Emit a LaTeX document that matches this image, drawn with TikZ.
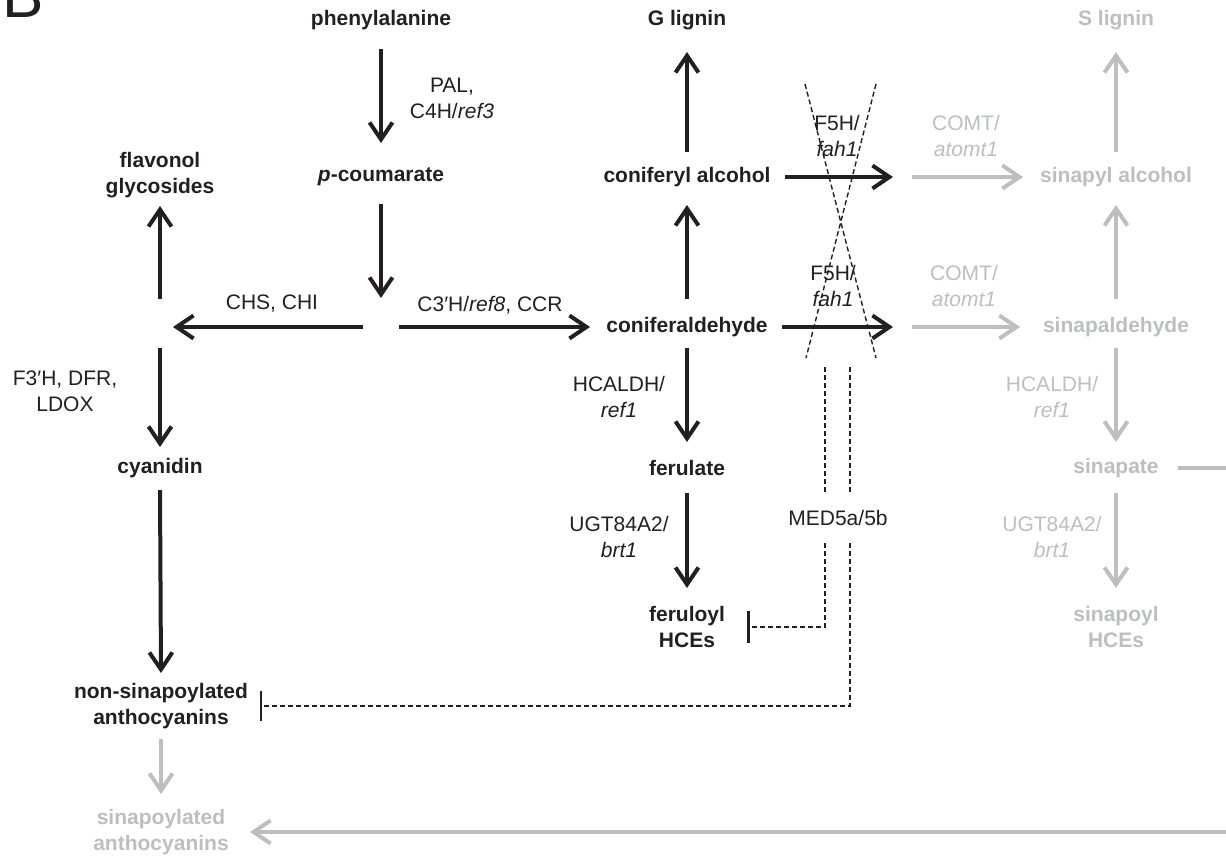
\documentclass[tikz,border=0pt]{standalone}
\usepackage{fontspec}
\setmainfont{Liberation Sans}
\usetikzlibrary{arrows.meta}
\definecolor{ink}{HTML}{231F20}
\definecolor{pale}{HTML}{BCBEC0}
\begin{document}
\begin{tikzpicture}[x=1pt,y=-1pt,
  every node/.style={inner sep=0pt, font=\fontsize{21}{26}\selectfont, align=center},
  met/.style={font=\fontsize{21}{26}\selectfont\bfseries, text=ink},
  gmet/.style={met, text=pale},
  enz/.style={text=ink},
  genz/.style={text=pale},
  arr/.style={draw=ink, line width=4pt, -{Straight Barb[length=17pt,width=23pt]}},
  garr/.style={arr, draw=pale},
  dsh/.style={draw=ink, line width=1.4pt, dash pattern=on 5pt off 3pt},
  inh/.style={dsh, -{Bar[width=32pt,line width=3pt]}},
  inhb/.style={dsh, -{Bar[width=30pt,line width=2pt]}},
]
\useasboundingbox (0,0) rectangle (1226,859);
\clip (0,0) rectangle (1226,859);

% panel letter
\node[anchor=base west, font=\fontsize{62}{62}\selectfont, text=ink] (lab) at (2.5,18) {B};

% metabolites
\node[met] (phe) at (381,20) {phenylalanine};
\node[met] (glig) at (687,20) {G lignin};
\node[gmet] (slig) at (1116,20) {S lignin};
\node[met] (flav) at (160,175) {flavonol\\glycosides};
\node[met] (pcou) at (381,177) {\textit{p}-coumarate};
\node[met] (cona) at (687,177) {coniferyl alcohol};
\node[gmet] (sinal) at (1116,177) {sinapyl alcohol};
\node[met] (conald) at (687,327) {coniferaldehyde};
\node[gmet] (sinald) at (1116,327) {sinapaldehyde};
\node[met] (cyan) at (160,468) {cyanidin};
\node[met] (fer) at (687,468) {ferulate};
\node[gmet] (sinap) at (1116,468) {sinapate};
\node[met] (ferhce) at (687,627) {feruloyl\\HCEs};
\node[gmet] (sinhce) at (1116,627) {sinapoyl\\HCEs};
\node[met] (nonsin) at (161,706) {non-sinapoylated\\anthocyanins};
\node[gmet] (sinanth) at (161,832) {sinapoylated\\anthocyanins};
\node[enz, minimum height=50pt] (med) at (838,518) {MED5a/5b};

% enzyme labels
\node[enz] (pal) at (452,98) {PAL,\\C4H/\textit{ref3}};
\node[enz] (chs) at (272,304) {CHS, CHI};
\node[enz] (c3h) at (490,305) {C3′H/\textit{ref8}, CCR};
\node[enz] (f3h) at (65,391) {F3′H, DFR,\\LDOX};
\node[enz] (hc1) at (619,397) {HCALDH/\\\textit{ref1}};
\node[enz] (ugt1) at (619,537) {UGT84A2/\\\textit{brt1}};
\node[enz] (f5a) at (837,136) {F5H/\\\textit{fah1}};
\node[enz] (f5b) at (833,286) {F5H/\\\textit{fah1}};
\node[genz] (cm1) at (966,136) {COMT/\\\textit{atomt1}};
\node[genz] (cm2) at (964,286) {COMT/\\\textit{atomt1}};
\node[genz] (hc2) at (1052,397) {HCALDH/\\\textit{ref1}};
\node[genz] (ugt2) at (1052,537) {UGT84A2/\\\textit{brt1}};

% helper coordinates
\coordinate (junc) at (381,327);
\coordinate (fj) at (160,327);
\coordinate (m1) at (902,177);
\coordinate (m2) at (902,327);
\coordinate (offr) at (1245,650);
\coordinate (xa) at (805,84);
\coordinate (xb) at (876,358);
\coordinate (xc) at (876,84);
\coordinate (xd) at (806,358);
\coordinate (d1) at (825,367);
\coordinate (d2) at (850,367);

% black arrows
\draw[arr] ([yshift=-29pt]phe.center) -- ([yshift=34pt]pcou.center);
\draw[arr] ([yshift=-27pt]pcou.center) -- ([yshift=29pt]junc);
\draw[arr] ([xshift=-18pt]junc) -- ([xshift=13pt]fj);
\draw[arr] ([xshift=18pt]junc) -- ([xshift=-97pt]conald.center);
\draw[arr] ([yshift=28pt]fj) -- ([yshift=-31pt]flav.center);
\draw[arr] ([yshift=-21pt]fj) -- ([yshift=21pt]cyan.center);
\draw[arr] ([yshift=-22pt]cyan.center) -- ([yshift=33pt]nonsin.center);
\draw[arr] ([yshift=25pt]cona.center) -- ([yshift=-32pt]glig.center);
\draw[arr] ([yshift=28pt]conald.center) -- ([yshift=-28pt]cona.center);
\draw[arr] ([yshift=-21pt]conald.center) -- ([yshift=26pt]fer.center);
\draw[arr] ([yshift=-25pt]fer.center) -- ([yshift=39pt]ferhce.center);
\draw[arr] ([xshift=98pt]cona.center) -- ([xshift=-9pt]m1);
\draw[arr] ([xshift=95pt]conald.center) -- ([xshift=-9pt]m2);

% grey arrows
\draw[garr] ([xshift=10pt]m1) -- ([xshift=-93pt]sinal.center);
\draw[garr] ([xshift=10pt]m2) -- ([xshift=-96pt]sinald.center);
\draw[garr] ([yshift=25pt]sinal.center) -- ([yshift=-32pt]slig.center);
\draw[garr] ([yshift=28pt]sinald.center) -- ([yshift=-28pt]sinal.center);
\draw[garr] ([yshift=-21pt]sinald.center) -- ([yshift=26pt]sinap.center);
\draw[garr] ([yshift=-25pt]sinap.center) -- ([yshift=39pt]sinhce.center);
\draw[garr] ([yshift=-33pt]nonsin.center) -- ([yshift=38pt]sinanth.center);
\draw[garr] ([xshift=62pt]sinap.center) -| (offr) |- ([xshift=89pt]sinanth.center);

% crossed-out F5H steps
\draw[dsh] (xa) -- (xb);
\draw[dsh] (xc) -- (xd);

% MED5a/5b repression
\draw[dsh] (d1) -- (d1 |- med.north);
\draw[dsh] (d2) -- (d2 |- med.north);
\draw[inh] (d1 |- med.south) |- ([xshift=22pt]ferhce.east);
\draw[inhb] (d2 |- med.south) |- ([xshift=12pt]nonsin.east);
\end{tikzpicture}
\end{document}
